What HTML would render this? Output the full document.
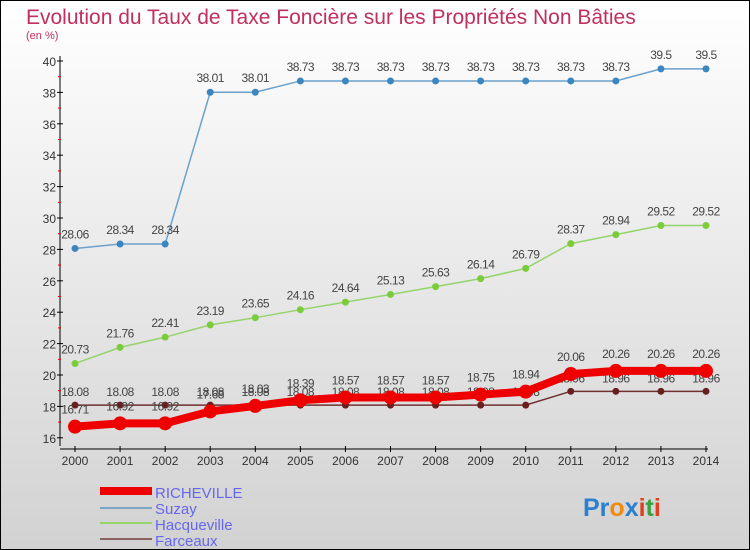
<!DOCTYPE html>
<html><head><meta charset="utf-8"><style>
body{margin:0;}
#c{width:750px;height:550px;position:relative;background:linear-gradient(#ffffff,#d2d2d2);font-family:"Liberation Sans",sans-serif;overflow:hidden;box-sizing:border-box;border:1px solid #000;}
</style></head><body>
<div id="c">
<svg id="s" width="750" height="550" style="position:absolute;left:-1px;top:-1px">
<text x="26" y="24" font-size="21" fill="#c0305e">Evolution du Taux de Taxe Foncière sur les Propriétés Non Bâties</text>
<text x="26" y="39" font-size="11" fill="#c0305e">(en %)</text>
<g id="axes"></g><g id="series"></g>
<g>
<rect x="100" y="487" width="52" height="8" fill="#ee0000"/>
<text x="155" y="498" font-size="15" fill="#6666ee">RICHEVILLE</text>
<rect x="100" y="507" width="52" height="2" fill="#7aa6c6"/>
<text x="155" y="514" font-size="15" fill="#6666ee">Suzay</text>
<rect x="100" y="522" width="52" height="2" fill="#94d46a"/>
<text x="155" y="530" font-size="15" fill="#6666ee">Hacqueville</text>
<rect x="100" y="538" width="52" height="2" fill="#8a6060"/>
<text x="155" y="546" font-size="15" fill="#6666ee">Farceaux</text>
</g>
<text x="583" y="516" font-size="25" font-weight="bold"><tspan fill="#2a7fd0">Pr</tspan><tspan fill="#f08a10">o</tspan><tspan fill="#2a7fd0">x</tspan><tspan fill="#e04020">i</tspan><tspan fill="#3aa040">t</tspan><tspan fill="#e04020">i</tspan></text>
</svg>
</div>
<script>
const years=[2000,2001,2002,2003,2004,2005,2006,2007,2008,2009,2010,2011,2012,2013,2014];
const yTicks=[16,18,20,22,24,26,28,30,32,34,36,38,40];
const richeville=[16.71,16.92,16.92,17.68,18.03,18.39,18.57,18.57,18.57,18.75,18.94,20.06,20.26,20.26,20.26];
const suzay=[28.06,28.34,28.34,38.01,38.01,38.73,38.73,38.73,38.73,38.73,38.73,38.73,38.73,39.5,39.5];
const hacqueville=[20.73,21.76,22.41,23.19,23.65,24.16,24.64,25.13,25.63,26.14,26.79,28.37,28.94,29.52,29.52];
const farceaux=[18.08,18.08,18.08,18.08,18.08,18.08,18.08,18.08,18.08,18.08,18.08,18.96,18.96,18.96,18.96];
const NS="http://www.w3.org/2000/svg";
const xS=i=>75+i*(631/14);
const yS=v=>437.8-(v-16)*15.7;
function mk(t,a,p){const e=document.createElementNS(NS,t);for(const k in a)e.setAttribute(k,a[k]);p.appendChild(e);return e;}
const ax=document.getElementById('axes');
let l=mk('line',{x1:60,y1:56,x2:60,y2:446,stroke:'#000'},ax);


l=mk('line',{x1:60,y1:449,x2:708,y2:449,stroke:'#000'},ax);


yTicks.forEach(v=>{
  mk('line',{x1:57,x2:63,y1:yS(v),y2:yS(v),stroke:'#000'},ax);
  mk('line',{x1:58,x2:61,y1:yS(v+1),y2:yS(v+1),stroke:v<40?'#e00':'none'},ax);
  const t=mk('text',{x:56,y:yS(v)+5,'font-size':12,fill:'#333','text-anchor':'end'},ax);
  t.textContent=v;
  
  
});
years.forEach((y,i)=>{
  mk('line',{x1:xS(i),x2:xS(i),y1:446,y2:452,stroke:'#000'},ax);
  const t=mk('text',{x:xS(i),y:465,'font-size':12,fill:'#333','text-anchor':'middle'},ax);
  t.textContent=y;
  
  
});
const sg=document.getElementById('series');
function series(name,vals,color,w,r,dotColor,off){
  const g=mk('g',{},sg);
  
  
  mk('polyline',{points:vals.map((v,i)=>xS(i)+','+yS(v)).join(' '),fill:'none',stroke:color,'stroke-width':w},g);
  vals.forEach((v,i)=>{
    const c=mk('circle',{cx:xS(i),cy:yS(v),r:r,fill:dotColor},g);
    
    
    const t=mk('text',{x:xS(i),y:yS(v)+off,'font-size':12,fill:'#444','text-anchor':'middle','letter-spacing':'-0.5'},g);
    t.textContent=v;
    
    
  });
}
series('suzay',suzay,'#6aa0cc',1.5,3.5,'#3a86c0',-10);
series('hacqueville',hacqueville,'#94d46a',1.5,3.5,'#7acc3a',-10);
series('farceaux',farceaux,'#703030',1.5,3.5,'#6a1f1f',-9);
series('richeville',richeville,'#ee0000',8,7,'#ee0000',-13);
</script>
</body></html>
